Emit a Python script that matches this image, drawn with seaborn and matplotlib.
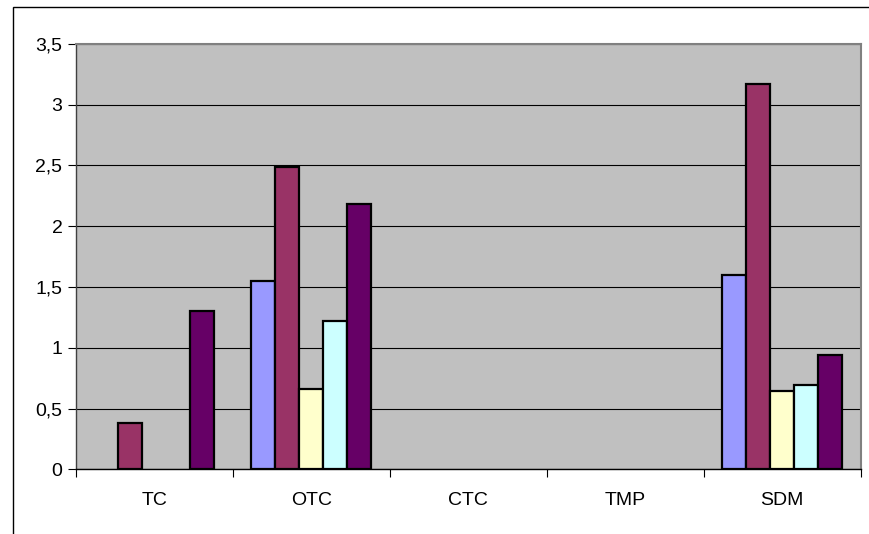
import numpy as np
import pandas as pd
import matplotlib
matplotlib.use("Agg")
import matplotlib.pyplot as plt
from matplotlib.patches import Rectangle
from matplotlib.ticker import FuncFormatter, FixedLocator, NullFormatter
import seaborn as sns

# Categories and series values (blank cells are NaN)
categories = ["TC", "OTC", "CTC", "TMP", "SDM"]
series_names = ["Serie 1", "Serie 2", "Serie 3", "Serie 4", "Serie 5"]
serie1 = [np.nan, 1.55, np.nan, np.nan, 1.60]
serie2 = [0.38, 2.49, np.nan, np.nan, 3.17]
serie3 = [np.nan, 0.66, np.nan, np.nan, 0.64]
serie4 = [np.nan, 1.22, np.nan, np.nan, 0.69]
serie5 = [1.30, 2.18, np.nan, np.nan, 0.94]
colors = ["#9999FF", "#993366", "#FFFFCC", "#CCFFFF", "#660066"]
y_ticks = [0, 0.5, 1, 1.5, 2, 2.5, 3, 3.5]

rows = []
for name, vals in zip(series_names, [serie1, serie2, serie3, serie4, serie5]):
    for cat, v in zip(categories, vals):
        rows.append({"categoria": cat, "serie": name, "valor": v})
df = pd.DataFrame(rows).dropna(subset=["valor"])

sns.set_theme(style="white")
plt.rcParams["font.family"] = ["Liberation Sans", "DejaVu Sans"]
FS = 14

fig = plt.figure(figsize=(8.69, 5.34), dpi=100)
fig.patch.set_facecolor("white")

# Outer chart-area border
fig.add_artist(Rectangle((12.5 / 869, -0.1), 1.2, 1.1 - 7.3 / 534,
                         transform=fig.transFigure, fill=False,
                         edgecolor="black", linewidth=1.0))

ax = fig.add_axes([76 / 869, 1 - 469.3 / 534, 784.7 / 869, 425.6 / 534])
ax.set_facecolor("#C0C0C0")

sns.barplot(data=df, x="categoria", y="valor", hue="serie",
            order=categories, hue_order=series_names,
            palette=colors, saturation=1, width=0.765, gap=0,
            edgecolor="black", linewidth=1.6, errorbar=None,
            legend=False, ax=ax)

ax.set_xlim(-0.5, len(categories) - 0.5)
ax.set_ylim(0, 3.5)
ax.set_xlabel("")
ax.set_ylabel("")

# Horizontal gridlines
ax.set_axisbelow(True)
ax.yaxis.set_major_locator(FixedLocator(y_ticks))
ax.yaxis.grid(True, color="black", linewidth=0.8)
ax.xaxis.grid(False)
ax.yaxis.set_major_formatter(
    FuncFormatter(lambda v, p: f"{v:g}".replace(".", ",")))

# Category axis: ticks at boundaries, labels centred in each category
ax.xaxis.set_major_locator(FixedLocator(np.arange(-0.5, len(categories), 1.0)))
ax.xaxis.set_major_formatter(NullFormatter())
ax.xaxis.set_minor_locator(FixedLocator(np.arange(len(categories))))
ax.set_xticklabels(categories, minor=True, fontsize=FS)
ax.tick_params(axis="x", which="major", direction="out", length=5.5,
               width=0.8, color="black", bottom=True)
ax.tick_params(axis="x", which="minor", length=0, pad=16, labelsize=FS,
               labelcolor="black", bottom=True)
ax.tick_params(axis="y", direction="out", length=5.8, width=0.8,
               color="black", pad=4, labelsize=FS, labelcolor="black", left=True)

for side in ["top", "right"]:
    ax.spines[side].set_color("#808080")
    ax.spines[side].set_linewidth(1.5)
ax.spines["left"].set_color("#404040")
ax.spines["left"].set_linewidth(1.0)
ax.spines["bottom"].set_color("black")
ax.spines["bottom"].set_linewidth(1.0)

fig.savefig("out.png", dpi=100, facecolor="white")
